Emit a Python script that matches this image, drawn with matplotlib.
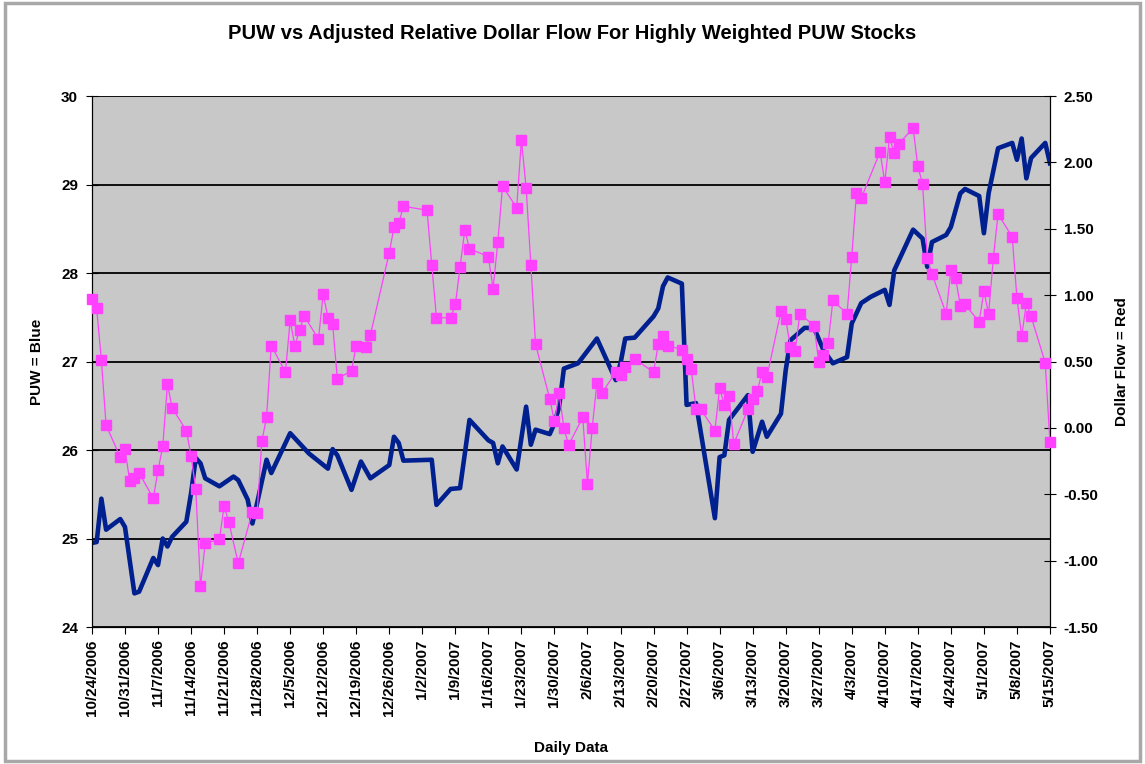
import matplotlib
matplotlib.use("Agg")
import matplotlib.pyplot as plt
from matplotlib.patches import Rectangle
from matplotlib.ticker import FixedLocator, FuncFormatter
import pandas as pd

# PUW closing price (left axis), vertices
puw_dates = ["10/24/06", "10/25/06", "10/26/06", "10/27/06", "10/30/06", "10/31/06", "11/2/06", "11/3/06",
             "11/6/06", "11/7/06", "11/8/06", "11/9/06", "11/10/06", "11/13/06", "11/14/06", "11/15/06",
             "11/16/06", "11/17/06", "11/20/06", "11/23/06", "11/24/06", "11/26/06", "11/27/06", "11/28/06",
             "11/30/06", "12/1/06", "12/5/06", "12/9/06", "12/13/06", "12/14/06", "12/15/06", "12/18/06",
             "12/20/06", "12/22/06", "12/26/06", "12/27/06", "12/28/06", "12/29/06", "1/4/07", "1/5/07",
             "1/8/07", "1/10/07", "1/12/07", "1/16/07", "1/17/07", "1/18/07", "1/19/07", "1/22/07",
             "1/24/07", "1/25/07", "1/26/07", "1/29/07", "1/30/07", "1/31/07", "2/1/07", "2/4/07",
             "2/8/07", "2/12/07", "2/13/07", "2/14/07", "2/16/07", "2/20/07", "2/21/07", "2/22/07",
             "2/23/07", "2/26/07", "2/27/07", "3/1/07", "3/5/07", "3/6/07", "3/7/07", "3/8/07",
             "3/12/07", "3/13/07", "3/15/07", "3/16/07", "3/19/07", "3/20/07", "3/21/07", "3/24/07",
             "3/26/07", "3/28/07", "3/30/07", "4/2/07", "4/3/07", "4/5/07", "4/7/07", "4/10/07",
             "4/11/07", "4/12/07", "4/16/07", "4/18/07", "4/19/07", "4/20/07", "4/23/07", "4/24/07",
             "4/26/07", "4/27/07", "4/30/07", "5/1/07", "5/2/07", "5/4/07", "5/7/07", "5/8/07",
             "5/9/07", "5/10/07", "5/11/07", "5/14/07", "5/15/07"]
puw_values = [24.95, 24.96, 25.45, 25.10, 25.22, 25.13, 24.38, 24.40,
              24.78, 24.70, 25.00, 24.91, 25.02, 25.19, 25.51, 25.91,
              25.85, 25.68, 25.59, 25.70, 25.66, 25.44, 25.17, 25.40,
              25.89, 25.74, 26.19, 25.96, 25.79, 26.01, 25.94, 25.55,
              25.87, 25.68, 25.83, 26.15, 26.08, 25.88, 25.89, 25.38,
              25.56, 25.57, 26.34, 26.11, 26.08, 25.85, 26.04, 25.78,
              26.49, 26.06, 26.23, 26.18, 26.30, 26.49, 26.92, 26.98,
              27.26, 26.79, 26.98, 27.26, 27.27, 27.51, 27.60, 27.85,
              27.95, 27.88, 26.51, 26.53, 25.23, 25.92, 25.94, 26.34,
              26.62, 25.98, 26.32, 26.15, 26.41, 26.90, 27.24, 27.38,
              27.38, 27.13, 26.98, 27.05, 27.43, 27.66, 27.73, 27.81,
              27.64, 28.03, 28.49, 28.39, 28.07, 28.35, 28.43, 28.52,
              28.90, 28.95, 28.87, 28.45, 28.90, 29.41, 29.47, 29.28,
              29.52, 29.07, 29.30, 29.47, 29.24]

# adjusted relative dollar flow (right axis)
flow_dates = ["10/24/06", "10/25/06", "10/26/06", "10/27/06", "10/30/06", "10/31/06", "11/1/06", "11/2/06",
              "11/3/06", "11/6/06", "11/7/06", "11/8/06", "11/9/06", "11/10/06", "11/13/06", "11/14/06",
              "11/15/06", "11/16/06", "11/17/06", "11/20/06", "11/21/06", "11/22/06", "11/24/06", "11/27/06",
              "11/28/06", "11/29/06", "11/30/06", "12/1/06", "12/4/06", "12/5/06", "12/6/06", "12/7/06",
              "12/8/06", "12/11/06", "12/12/06", "12/13/06", "12/14/06", "12/15/06", "12/18/06", "12/19/06",
              "12/21/06", "12/22/06", "12/26/06", "12/27/06", "12/28/06", "12/29/06", "1/3/07", "1/4/07",
              "1/5/07", "1/8/07", "1/9/07", "1/10/07", "1/11/07", "1/12/07", "1/16/07", "1/17/07",
              "1/18/07", "1/19/07", "1/22/07", "1/23/07", "1/24/07", "1/25/07", "1/26/07", "1/29/07",
              "1/30/07", "1/31/07", "2/1/07", "2/2/07", "2/5/07", "2/6/07", "2/7/07", "2/8/07",
              "2/9/07", "2/12/07", "2/13/07", "2/14/07", "2/16/07", "2/20/07", "2/21/07", "2/22/07",
              "2/23/07", "2/26/07", "2/27/07", "2/28/07", "3/1/07", "3/2/07", "3/5/07", "3/6/07",
              "3/7/07", "3/8/07", "3/9/07", "3/12/07", "3/13/07", "3/14/07", "3/15/07", "3/16/07",
              "3/19/07", "3/20/07", "3/21/07", "3/22/07", "3/23/07", "3/26/07", "3/27/07", "3/28/07",
              "3/29/07", "3/30/07", "4/2/07", "4/3/07", "4/4/07", "4/5/07", "4/9/07", "4/10/07",
              "4/11/07", "4/12/07", "4/13/07", "4/16/07", "4/17/07", "4/18/07", "4/19/07", "4/20/07",
              "4/23/07", "4/24/07", "4/25/07", "4/26/07", "4/27/07", "4/30/07", "5/1/07", "5/2/07",
              "5/3/07", "5/4/07", "5/7/07", "5/8/07", "5/9/07", "5/10/07", "5/11/07", "5/14/07",
              "5/15/07"]
flow_values = [0.97, 0.90, 0.51, 0.02, -0.22, -0.16, -0.40, -0.38,
               -0.34, -0.53, -0.32, -0.14, 0.33, 0.15, -0.02, -0.21,
               -0.46, -1.19, -0.87, -0.84, -0.59, -0.71, -1.02, -0.63,
               -0.64, -0.10, 0.08, 0.62, 0.42, 0.81, 0.62, 0.74,
               0.84, 0.67, 1.01, 0.83, 0.78, 0.37, 0.43, 0.62,
               0.61, 0.70, 1.32, 1.51, 1.54, 1.67, 1.64, 1.23,
               0.83, 0.83, 0.93, 1.21, 1.49, 1.35, 1.29, 1.05,
               1.40, 1.82, 1.66, 2.17, 1.81, 1.23, 0.63, 0.22,
               0.05, 0.26, 0.00, -0.13, 0.08, -0.42, 0.00, 0.34,
               0.26, 0.42, 0.40, 0.46, 0.52, 0.42, 0.63, 0.69,
               0.62, 0.59, 0.52, 0.44, 0.14, 0.14, -0.02, 0.30,
               0.17, 0.24, -0.12, 0.14, 0.22, 0.28, 0.42, 0.38,
               0.88, 0.82, 0.61, 0.58, 0.86, 0.77, 0.50, 0.55,
               0.64, 0.96, 0.86, 1.29, 1.77, 1.73, 2.08, 1.85,
               2.19, 2.07, 2.14, 2.26, 1.97, 1.84, 1.28, 1.16,
               0.86, 1.19, 1.13, 0.92, 0.93, 0.80, 1.03, 0.86,
               1.28, 1.61, 1.44, 0.98, 0.69, 0.94, 0.84, 0.49,
               -0.11]

first_day = "10/24/06"
last_day = "5/15/07"
puw_ticks = [24, 25, 26, 27, 28, 29, 30]
flow_ticks = [-1.5, -1.0, -0.5, 0.0, 0.5, 1.0, 1.5, 2.0, 2.5]

plt.rcParams['font.family'] = ['Liberation Sans', 'DejaVu Sans']
plt.rcParams['font.weight'] = 'bold'

fmt = "%m/%d/%y"
puw_x = pd.to_datetime(puw_dates, format=fmt)
flow_x = pd.to_datetime(flow_dates, format=fmt)
start = pd.to_datetime(first_day, format=fmt)
end = pd.to_datetime(last_day, format=fmt)
week_ticks = pd.date_range(start, end, freq="7D")

fig = plt.figure(figsize=(11.45, 7.64), dpi=100)
ax = fig.add_axes([0.0803, 0.1793, 0.8367, 0.695])
ax.set_facecolor('#c8c8c8')
ax.set_axisbelow(True)
ax.grid(axis='y', color='black', lw=1.3)
ax.plot(puw_x, puw_values, color='#00208f', lw=3.3, solid_joinstyle='round', zorder=3)

ax.set_xlim(start, end)
ax.set_ylim(24, 30)
ax.set_yticks(puw_ticks)
ax.xaxis.set_major_locator(FixedLocator([matplotlib.dates.date2num(d) for d in week_ticks]))
ax.xaxis.set_major_formatter(FuncFormatter(
    lambda v, p: (lambda d: f"{d.month}/{d.day}/{d.year}")(matplotlib.dates.num2date(v))))
for lab in ax.get_xticklabels():
    lab.set_rotation(90)
ax.tick_params(axis='x', direction='out', length=5, labelsize=11, pad=4)
ax.tick_params(axis='y', direction='inout', length=8, labelsize=11, pad=6)
ax.spines['top'].set_visible(False)
ax.set_ylabel("PUW = Blue", fontsize=11, fontweight='bold', labelpad=12)
ax.set_xlabel("Daily Data", fontsize=11, fontweight='bold', labelpad=18)

ax2 = ax.twinx()
ax2.plot(flow_x, flow_values, color='#ff40ff', lw=0.9, marker='s', ms=6.5,
         mfc='#ff40ff', mec='#ff40ff', zorder=4, clip_on=False)
ax2.set_ylim(-1.5, 2.5)
ax2.set_yticks(flow_ticks)
ax2.yaxis.set_major_formatter(FuncFormatter(lambda v, p: f"{v:.2f}"))
ax2.tick_params(axis='y', direction='inout', length=8, labelsize=11, pad=6)
ax2.spines['top'].set_visible(False)
ax2.set_ylabel("Dollar Flow = Red", fontsize=11, fontweight='bold', labelpad=12)
ax2.yaxis.label.set_rotation(90)

fig.suptitle("PUW vs Adjusted Relative Dollar Flow For Highly Weighted PUW Stocks",
             fontsize=14.5, fontweight='bold', y=0.968)

fig.patches.append(Rectangle((0.004, 0.004), 0.992, 0.992, transform=fig.transFigure,
                             fill=False, edgecolor='#a8a8a8', lw=2.5))

fig.savefig("out.png", dpi=100)
